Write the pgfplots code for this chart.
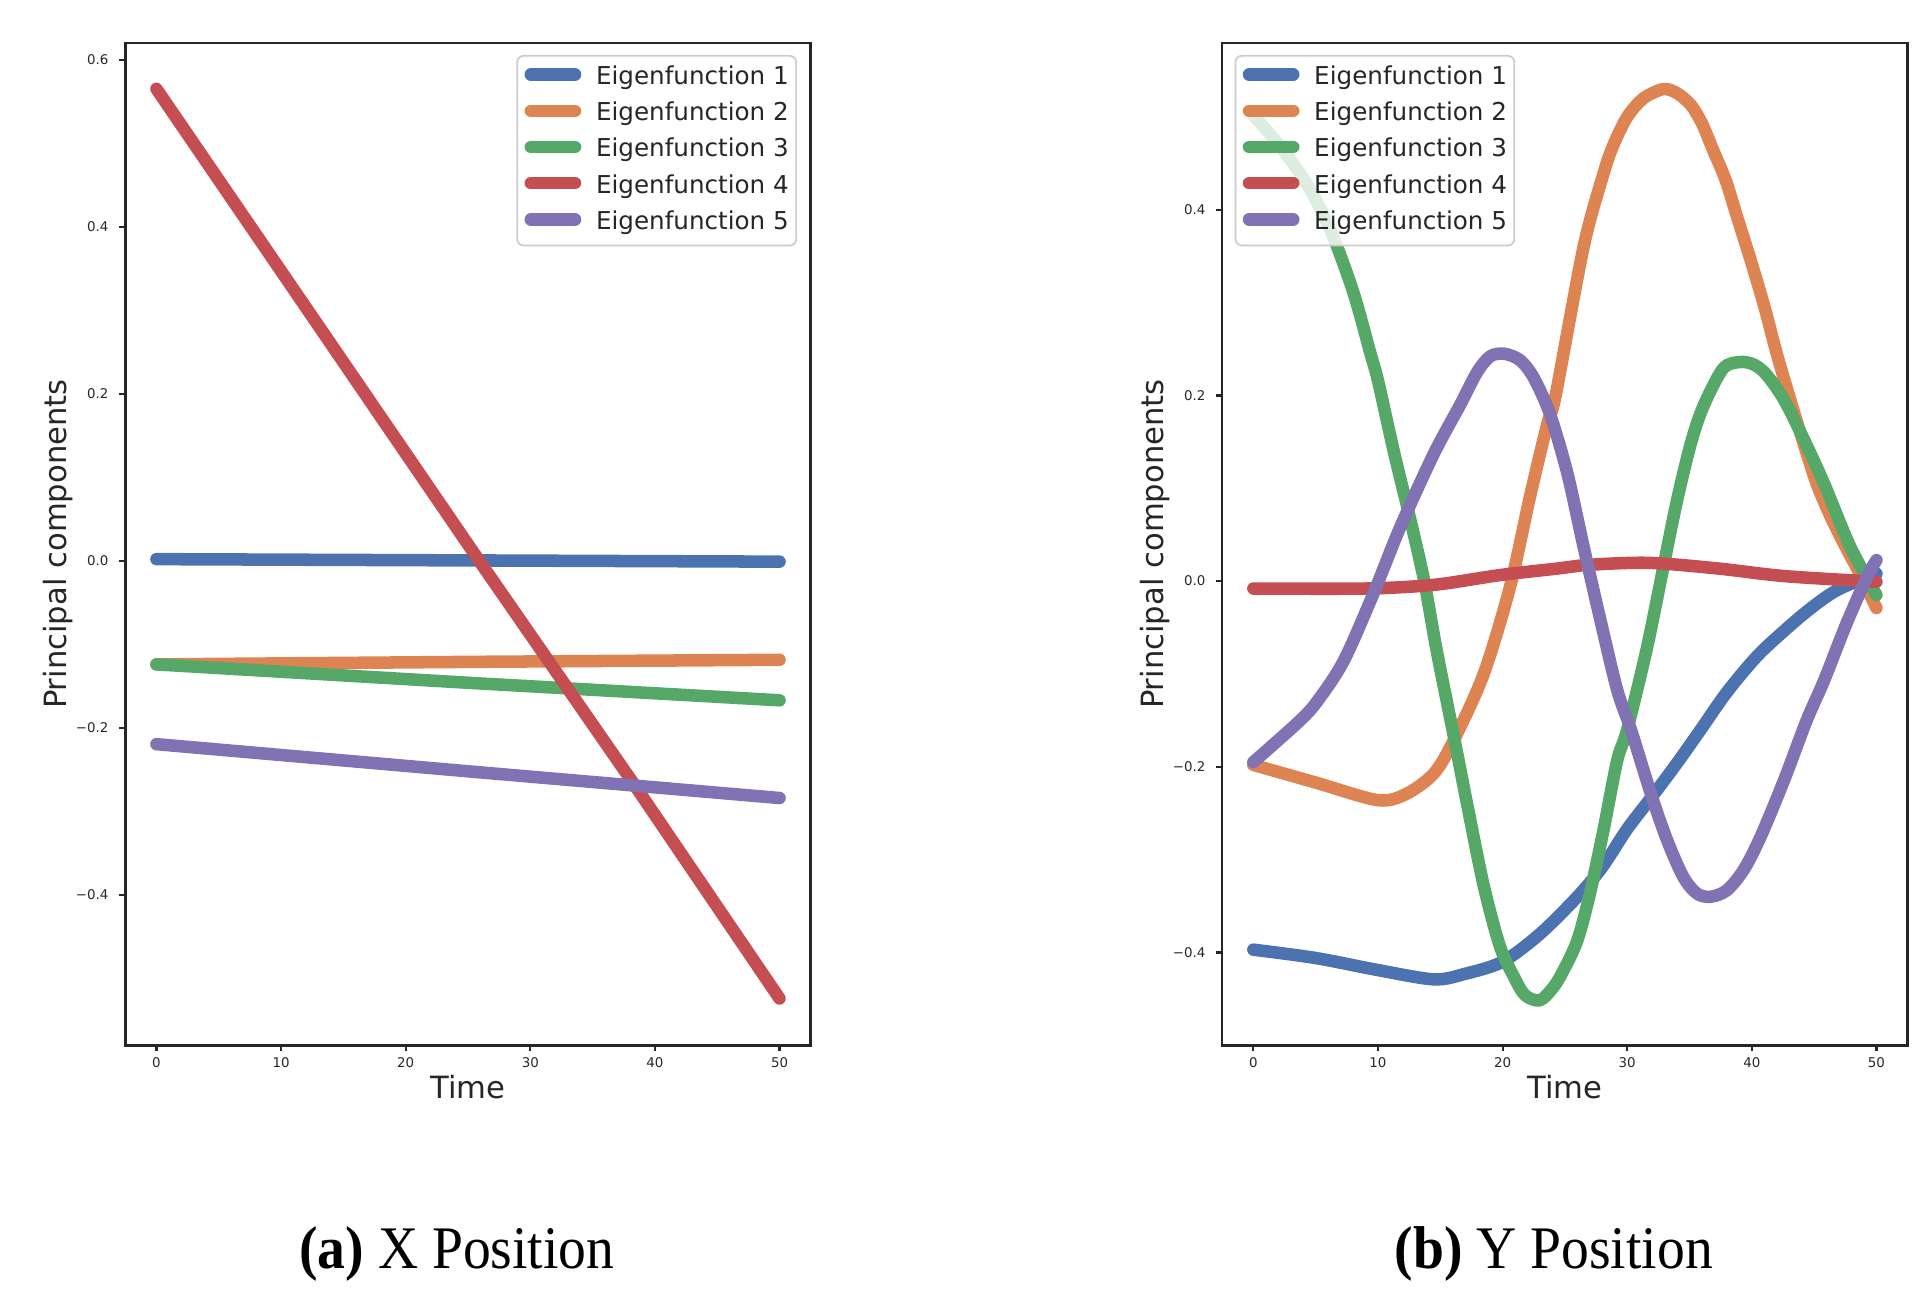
\documentclass[border=0pt]{standalone}
\usepackage{fontspec}
\setmainfont{DejaVu Sans}
\newfontfamily\capfont{Liberation Serif}
\usepackage{pgfplots}
\pgfplotsset{compat=1.18}

\definecolor{c1}{HTML}{4C72B0}
\definecolor{c2}{HTML}{DD8452}
\definecolor{c3}{HTML}{55A868}
\definecolor{c4}{HTML}{C44E52}
\definecolor{c5}{HTML}{8172B3}
\definecolor{ink}{HTML}{262626}

\pgfplotsset{
  eig/.style={
    scale only axis, width=5.58cm, height=8.16cm,
    xmin=-2.5, xmax=52.5,
    xtick={0,10,20,30,40,50},
    axis line style={ink, line width=0.6pt},
    tick style={ink, line width=0.5pt},
    tick align=outside, major tick length=0.05cm,
    xtick pos=left, ytick pos=left,
    ticklabel style={font=\fontsize{3.1}{3.7}\selectfont, text=ink, inner sep=0pt},
    xticklabel shift=0.04cm, yticklabel shift=0.08cm,
    /pgf/number format/assume math mode=true,
    xlabel={Time}, ylabel={Principal components},
    label style={font=\fontsize{7.1}{8.5}\selectfont, text=ink},
    xlabel style={at={(axis description cs:0.5,0)}, anchor=north, inner sep=0pt, yshift=-0.24cm},
    ylabel style={at={(axis description cs:-0.0753,0.5)}, anchor=south, inner sep=0pt},
    legend cell align=left,
    legend style={
      font=\fontsize{5.7}{6.8}\selectfont, text=ink,
      draw=black!20, line width=0.4pt, rounded corners=1.5pt,
      fill=white, fill opacity=0.8, text opacity=1, draw opacity=1,
      inner xsep=0.06cm, inner ysep=0.08cm,
      row sep=0.09cm, column sep=0.12cm,
      nodes={inner sep=0pt},
    },
    legend image code/.code={\draw[#1, line width=2.9pt, line cap=round] (0cm,0.03cm) -- (0.36cm,0.03cm);},
    every axis plot/.append style={line width=2.9pt, line cap=round, line join=round},
  }
}

\begin{document}
\begin{tikzpicture}
\path[use as bounding box] (0,0) rectangle (15.68,10.49);

% (a) X position
\begin{axis}[eig, at={(1.02cm,1.98cm)}, anchor=south west,
  ymin=-0.58, ymax=0.62,
  ytick={-0.4,-0.2,0,0.2,0.4,0.6},
  yticklabels={−0.4,−0.2,0.0,0.2,0.4,0.6},
  legend style={at={(axis description cs:0.980,0.988)}, anchor=north east}]
\addplot[c1] coordinates {(0,0.002) (25,0.0005) (50,-0.001)};
\addlegendentry{Eigenfunction 1}
\addplot[c2] coordinates {(0,-0.124) (25,-0.121) (50,-0.1185)};
\addlegendentry{Eigenfunction 2}
\addplot[c3] coordinates {(0,-0.124) (25,-0.146) (50,-0.167)};
\addlegendentry{Eigenfunction 3}
\addplot[c4] coordinates {(0,0.565) (25.9,0.0) (38.3,-0.267) (50,-0.524)};
\addlegendentry{Eigenfunction 4}
\addplot[c5] coordinates {(0,-0.2195) (25,-0.252) (50,-0.284)};
\addlegendentry{Eigenfunction 5}
\end{axis}

% (b) Y position
\begin{axis}[eig, at={(9.95cm,1.98cm)}, anchor=south west,
  ymin=-0.5, ymax=0.5797,
  ytick={-0.4,-0.2,0,0.2,0.4},
  yticklabels={−0.4,−0.2,0.0,0.2,0.4},
  legend style={at={(axis description cs:0.018,0.988)}, anchor=north west}]
\addplot[c1, smooth] coordinates {
(0,-0.397) (5,-0.406) (10,-0.419) (14.5,-0.429) (17,-0.423) (20,-0.410)
(23,-0.380) (26,-0.340) (28,-0.308) (30,-0.267) (32,-0.232) (34,-0.196)
(36,-0.158) (37.7,-0.125) (39.3,-0.098) (41,-0.073) (44.2,-0.035) (46.8,-0.010) (50,0.008)};
\addlegendentry{Eigenfunction 1}
\addplot[c2, smooth] coordinates {
(0,-0.198) (5,-0.217) (10,-0.236) (12.3,-0.229) (14.5,-0.207) (16.1,-0.171)
(18.5,-0.0995) (20.6,-0.006) (22.2,0.091) (23.6,0.170) (24.24,0.199) (26.5,0.360)
(28.1,0.439) (28.9,0.470) (30,0.500) (31.3,0.520) (32.9,0.530) (34,0.5255)
(35.1,0.513) (36,0.493) (36.9,0.464) (37.9,0.432) (38.8,0.393) (39.9,0.346)
(41,0.296) (42,0.245) (43,0.199) (44,0.155) (45.2,0.105) (46.3,0.070)
(47.4,0.040) (48.5,0.012) (50,-0.029)};
\addlegendentry{Eigenfunction 2}
\addplot[c3, smooth] coordinates {
(0,0.502) (2.4,0.464) (4.6,0.421) (6.4,0.371) (8.05,0.310) (9.4,0.245)
(10,0.216) (11.3,0.138) (12.6,0.066) (13.7,0.001) (14.7,-0.074) (16.1,-0.168)
(17.15,-0.240) (18.5,-0.329) (19.8,-0.394) (20.9,-0.426) (21.8,-0.446) (23,-0.4515)
(24.1,-0.437) (24.9,-0.419) (26,-0.387) (27,-0.337) (28.1,-0.268) (29.2,-0.193)
(30,-0.160) (31.6,-0.071) (32.9,0.015) (34,0.087) (35.1,0.148) (36.1,0.188)
(37.7,0.229) (39.1,0.236) (40.2,0.233) (41.2,0.222) (42.6,0.195) (44.2,0.152)
(45.8,0.105) (47.9,0.037) (50,-0.015)};
\addlegendentry{Eigenfunction 3}
\addplot[c4, smooth] coordinates {
(0,-0.008) (9,-0.008) (14.5,-0.004) (19.8,0.0065) (24.5,0.0137) (26.5,0.0172)
(31.6,0.0197) (37.2,0.0137) (42.6,0.0054) (50,-0.0007)};
\addlegendentry{Eigenfunction 4}
\addplot[c5, smooth] coordinates {
(0,-0.195) (3.6,-0.152) (5.1,-0.130) (7.25,-0.086) (9.65,-0.013) (11.8,0.0585)
(14.5,0.1376) (16.6,0.190) (17.95,0.225) (19,0.242) (20.1,0.245) (21.4,0.238)
(22.5,0.219) (23.8,0.180) (25.2,0.116) (26.5,0.037) (27.85,-0.042) (29.2,-0.1175)
(30.3,-0.160) (31.9,-0.229) (33.2,-0.279) (34.5,-0.3186) (35.6,-0.3366) (36.7,-0.340)
(38,-0.333) (39.35,-0.311) (40.7,-0.2755) (42.6,-0.214) (44.4,-0.150) (45.8,-0.107)
(47.6,-0.0456) (49.25,0.0046) (50,0.0226)};
\addlegendentry{Eigenfunction 5}
\end{axis}

\node[font=\capfont\fontsize{14}{16}\selectfont, anchor=base] at (3.72,0.16) {\scalebox{0.92}[1]{\textbf{(a)} X Position}};
\node[font=\capfont\fontsize{14}{16}\selectfont, anchor=base] at (12.65,0.16) {\scalebox{0.92}[1]{\textbf{(b)} Y Position}};
\end{tikzpicture}
\end{document}
